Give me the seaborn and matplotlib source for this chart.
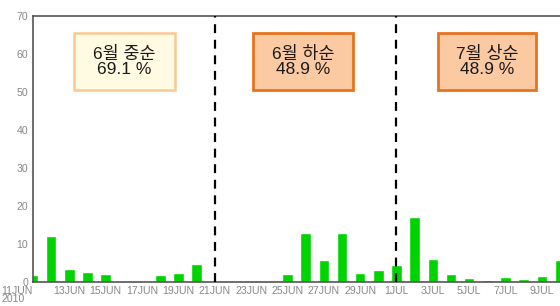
import numpy as np
import matplotlib
matplotlib.use('Agg')
import matplotlib.pyplot as plt
import seaborn as sns
import pandas as pd
from matplotlib.patches import Rectangle


# day index 0 = 11 JUN 2010
days = list(range(30))
values = [1.8, 12.0, 3.4, 2.7, 2.1, 0, 0, 1.9, 2.4, 4.6,
          0, 0, 0, 0, 2.1, 12.8, 5.8, 12.8, 2.3, 3.2,
          4.4, 17.0, 6.0, 2.2, 1.0, 0.4, 1.3, 0.8, 1.5, 5.9]
tick_days = list(range(0, 29, 2))
tick_labels = ['11JUN\n2010', '13JUN', '15JUN', '17JUN', '19JUN', '21JUN', '23JUN',
               '25JUN', '27JUN', '29JUN', '1JUL', '3JUL', '5JUL', '7JUL', '9JUL']
period_splits = [10, 20]
period_names = ['6월 중순', '6월 하순', '7월 상순']
period_rates = [69.1, 48.9, 48.9]


def draw():
    sns.set_style('white')
    plt.rcParams['font.family'] = ['Liberation Sans', 'Noto Sans CJK KR', 'DejaVu Sans']

    fig = plt.figure(figsize=(5.6, 3.06), dpi=100)
    ax = fig.add_axes([0.059, 0.0785, 0.941, 0.8695])

    df = pd.DataFrame({'day': days, 'value': values})
    sns.barplot(data=df, x='day', y='value', native_scale=True, width=0.58,
                color='#00d400', saturation=1, ax=ax, zorder=2)

    for s in period_splits:
        ax.axvline(s, color='black', lw=1.6, ls=(0, (4, 3)), zorder=3)

    # annotation boxes (x0, x1 in days, y0, y1 in values)
    boxes = [(2.25, 7.8), (12.1, 17.6), (22.3, 27.7)]
    styles = [dict(fc='#fffbe3', ec='#f8c994', lw=1.8),
              dict(fc='#fbc9a2', ec='#e8731f', lw=2.0),
              dict(fc='#fbc9a2', ec='#e8731f', lw=2.0)]
    for (x0, x1), st, name, rate in zip(boxes, styles, period_names, period_rates):
        ax.add_patch(Rectangle((x0, 50.5), x1 - x0, 15.0, zorder=4, **st))
        ax.text((x0 + x1) / 2, 58.0, f'{name}\n{rate} %', ha='center', va='center',
                fontsize=12.5, color='#1a1a1a', linespacing=1.05, zorder=5)

    ax.set_xlim(0, 29)
    ax.set_ylim(0, 70)
    ax.set_yticks(range(0, 71, 10))
    ax.set_xticks(tick_days)
    ax.set_xticklabels(tick_labels)
    labs = ax.get_xticklabels()
    labs[0].set_horizontalalignment('right')
    labs[0].set_multialignment('left')
    labs[0].set_linespacing(0.8)
    ax.set_xlabel('')
    ax.set_ylabel('')
    ax.tick_params(axis='both', labelsize=7.6, colors='#888888', length=2.5, width=0.8,
                   direction='out', pad=1)
    ax.tick_params(axis='x', pad=0.3)
    ax.tick_params(axis='both', color='#555555')
    for side in ['left', 'bottom', 'top']:
        ax.spines[side].set_color('#555555')
        ax.spines[side].set_linewidth(1.2)
    ax.spines['right'].set_visible(False)

    fig.savefig('out.png', dpi=100)


if __name__ == '__main__':
    draw()
